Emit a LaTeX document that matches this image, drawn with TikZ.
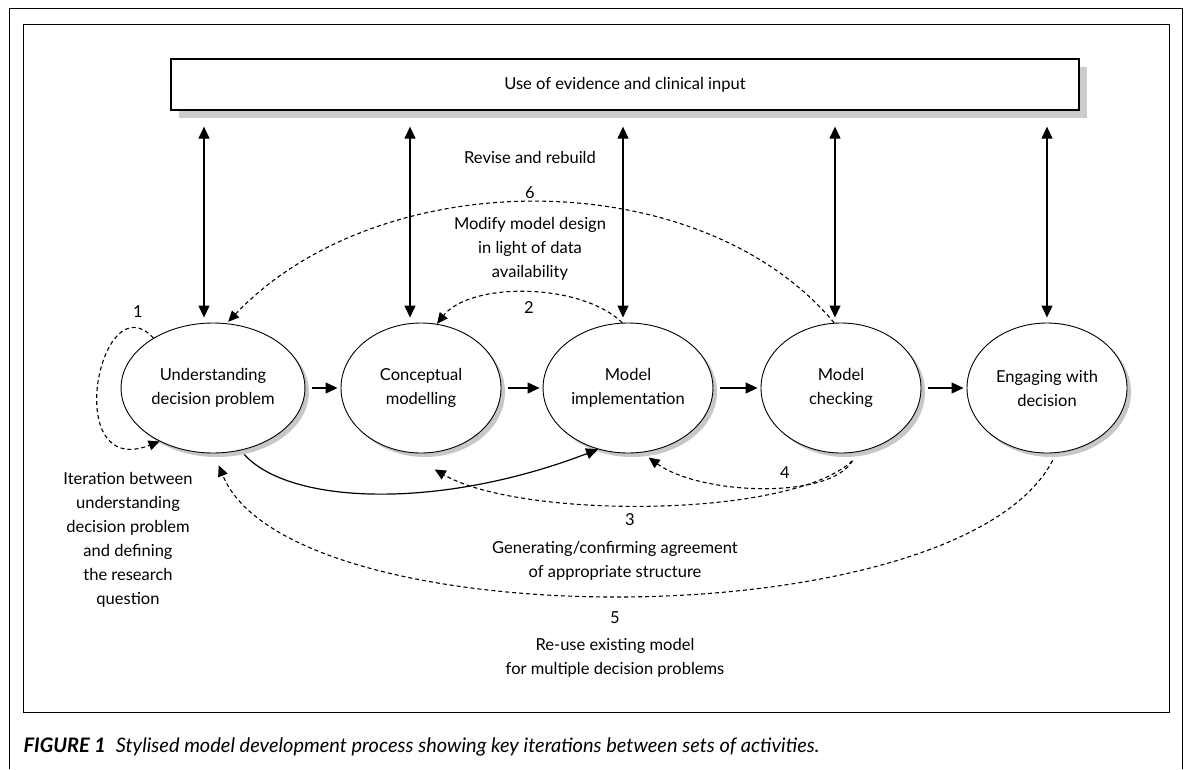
\documentclass[tikz,border=0pt]{standalone}
\usepackage{fontspec}
\setmainfont{Lato}
\usetikzlibrary{arrows.meta,shapes.geometric,shadows}

\begin{document}
\begin{tikzpicture}[x=1pt,y=-1pt,
  txt/.style={font=\fontsize{16.5}{24}\selectfont,align=center},
  ell/.style={ellipse,draw,line width=0.9pt,fill=white,minimum width=160pt,minimum height=130pt,txt,
    drop shadow={shadow xshift=4pt,shadow yshift=-4pt,fill=black!22,opacity=1}},
  evbox/.style={draw,line width=1.3pt,fill=white,minimum width=908pt,minimum height=51pt,txt,
    drop shadow={shadow xshift=8pt,shadow yshift=-8pt,fill=black!20,opacity=1}},
  flow/.style={line width=1.2pt,-{Triangle[length=12pt,width=11pt]}},
  dbl/.style={line width=1.2pt,{Triangle[length=12pt,width=11pt]}-{Triangle[length=12pt,width=11pt]},shorten <=16pt,shorten >=5pt},
  dsh/.style={line width=1.1pt,dash pattern=on 4pt off 3pt,-{Triangle[length=11pt,width=10pt]}}]
\useasboundingbox (0,0) rectangle (1184,769);
% frames
\draw[line width=1pt] (9,769) -- (9,8) -- (1182,8) -- (1182,769);
\draw[line width=1pt] (23,24) rectangle (1169,712);

\node[evbox] (ev) at (625,84.5) {Use of evidence and clinical input};

% activities
\node[ell] (u) at (213,388) {Understanding\\decision problem};
\node[ell] (c) at (421,388) {Conceptual\\modelling};
\node[ell] (m) at (628,388) {Model\\implementation};
\node[ell] (k) at (841,388) {Model\\checking};
\node[ell] (e) at (1047,388) {Engaging with\\decision};

\draw[flow,shorten <=7pt,shorten >=3pt] (u.east) -- (c.west);
\draw[flow,shorten <=7pt,shorten >=3pt] (c.east) -- (m.west);
\draw[flow,shorten <=7pt,shorten >=3pt] (m.east) -- (k.west);
\draw[flow,shorten <=7pt,shorten >=3pt] (k.east) -- (e.west);

% links with the evidence box
\foreach \n/\dx in {u/-9,c/-11,m/-5,k/-6,e/0}{
  \coordinate (t\n) at ([xshift=\dx pt]\n.north);
  \draw[dbl] (t\n |- ev.south) -- (t\n);
}

% iterations
\draw[dsh] (u.140) .. controls (100,280) and (60,480) .. (u.225);
\draw[dsh,shorten >=2pt] (k.96) .. controls (700,162) and (380,162) .. (u.78);
\draw[dsh] (m.95) .. controls (580,282) and (470,282) .. (c.76);
\draw[dsh] ([yshift=-8pt]k.280) .. controls (830,500) and (700,495) .. ([yshift=-6pt]m.288);
\draw[dsh] ([yshift=-8pt]k.280) .. controls (790,519) and (520,519) .. ([yshift=-17pt]c.282);
\draw[dsh] ([yshift=-7pt]e.275) .. controls (960,640) and (290,640) .. ([yshift=-12pt]u.275);
\draw[flow] ([yshift=-5pt]u.297) .. controls (290,505) and (440,510) .. (m.244);

% labels
\node[txt] (l1) at (138,312) {1};
\node[txt] (rr) at (530,157) {Revise and rebuild};
\node[txt] (l6) at (530,193) {6};
\node[txt] (md) at (530,249) {Modify model design\\in light of data\\availability};
\node[txt] (l2) at (529,308) {2};
\node[txt] (l4) at (785,473) {4};
\node[txt] (l3) at (630,520) {3};
\node[txt] (gc) at (615,560.5) {Generating/confirming agreement\\of appropriate structure};
\node[txt] (l5) at (615,618) {5};
\node[txt] (ru) at (615,657.5) {Re-use existing model\\for multiple decision problems};
\node[txt] (it) at (128,539.5) {Iteration between\\understanding\\decision problem\\and defining\\the research\\question};

\node[anchor=west,font=\fontsize{20}{22}\selectfont\itshape] (cap) at (20,747)
  {\textbf{FIGURE 1}\enspace Stylised model development process showing key iterations between sets of activities.};
\end{tikzpicture}
\end{document}
